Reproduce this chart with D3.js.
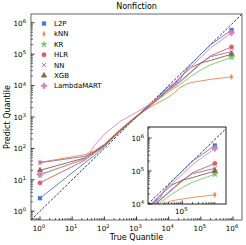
<!DOCTYPE html>
<html><head><meta charset="utf-8">
<script src="https://cdn.jsdelivr.net/npm/d3@7"></script>
<style>body{margin:0;background:#fff}svg{display:block;font-family:"DejaVu Sans",sans-serif}</style>
</head><body><svg id="c" width="246" height="245"></svg>
<script>
// ---- data ----
const seriesNames = ["L2P","kNN","KR","HLR","NN","XGB","LambdaMART"];
const colors = ["#4878d0","#ee854a","#6acc64","#d65f5f","#956cb4","#8c613c","#dc7ec0"];
const markers = ["square","thin_diamond","star","circle","x","triangle","plus"];
const trueQuantile = [1, 25, 50, 100, 300, 1000, 3000, 10000, 15000, 22000, 32000, 50000, 100000, 200000, 900000];
const predL2P  = [2.6, 35, 60, 115, 340, 1050, 2900, 9300, 11200, 14800, 28000, 48000, 100000, 200000, 590000];
const predKNN  = [36, 63, 85, 135, 390, 1100, 2200, 4300, 6000, 8500, 10500, 12600, 14100, 15800, 19000];
const predKR   = [14, 48, 75, 120, 350, 1000, 2500, 6300, 8300, 10500, 14100, 20000, 31600, 45700, 80000];
const predHLR  = [8, 42, 72, 120, 350, 1000, 2500, 7100, 9300, 12600, 17800, 26300, 50000, 89000, 170000];
const predNN   = [35, 56, 80, 128, 355, 1000, 2630, 7600, 10000, 13200, 18600, 28200, 52500, 83000, 120000];
const predXGB  = [20, 50, 76, 128, 370, 1050, 2800, 7900, 11200, 17800, 25100, 38000, 52500, 63000, 100000];
const predLM   = [15, 45, 126, 282, 708, 1410, 2800, 8300, 12600, 17800, 26300, 40000, 79000, 158000, 480000];
const predSeries = [predL2P, predKNN, predKR, predHLR, predNN, predXGB, predLM];
const majorTicks = [1, 10, 100, 1000, 10000, 100000, 1000000];
const tickExp = ["0","1","2","3","4","5","6"];
const insetTicks = [10000, 100000, 1000000];
const insetExp = ["4","5","6"];
const insetXTicks = [100000];
const insetXExp = ["5"];

// ---- layout ----
const svg = d3.select("#c");
const M = {l:31, r:242, t:14, b:220};
const dom = [Math.pow(10,-0.28), Math.pow(10,6.28)];
const x = d3.scaleLog().domain(dom).range([M.l, M.r]);
const y = d3.scaleLog().domain(dom).range([M.b, M.t]);
const I = {l:148, r:226, t:127, b:204};
const idom = [1e4, 1.9e6];
const xi = d3.scaleLog().domain(idom).range([I.l, I.r]);
const yi = d3.scaleLog().domain([1e4, 2.15e6]).range([I.b, I.t]);

const defs = svg.append("defs");
defs.append("clipPath").attr("id","cm").append("rect").attr("x",M.l).attr("y",M.t).attr("width",M.r-M.l).attr("height",M.b-M.t);
defs.append("clipPath").attr("id","ci").append("rect").attr("x",I.l).attr("y",I.t).attr("width",I.r-I.l).attr("height",I.b-I.t);

function markerPath(kind){
  const s = 2.2;
  switch(kind){
    case "square": return d3.symbol(d3.symbolSquare, 15)();
    case "circle": return d3.symbol(d3.symbolCircle, 15)();
    case "star": return d3.symbol(d3.symbolStar, 13)();
    case "triangle": return d3.symbol(d3.symbolTriangle, 14)();
    case "plus": return d3.symbol(d3.symbolCross, 18)();
    case "thin_diamond": return "M0,-2.7L1.4,0L0,2.7L-1.4,0Z";
    case "x": return `M${-s},${-s}L${s},${s}M${-s},${s}L${s},${-s}`;
  }
}
function drawMarker(g, kind, cx, cy, col){
  const p = g.append("path").attr("d", markerPath(kind)).attr("transform",`translate(${cx},${cy})`);
  if(kind==="x") p.attr("fill","none").attr("stroke",col).attr("stroke-width",0.9);
  else p.attr("fill",col).attr("stroke",col).attr("stroke-width",0.4);
}

function drawSeries(g, xs, ys){
  const d0 = xs.domain();
  g.append("line").attr("x1",xs(d0[0])).attr("y1",ys(d0[0])).attr("x2",xs(d0[1]*2)).attr("y2",ys(d0[1]*2))
    .attr("stroke","#000").attr("stroke-width",0.8).attr("stroke-dasharray","2.5,1.5");
  predSeries.forEach((vals,i)=>{
    const pts = trueQuantile.map((t,j)=>[t, vals[j]]);
    const line = d3.line().x(d=>xs(d[0])).y(d=>ys(d[1]));
    g.append("path").attr("d", line(pts)).attr("fill","none").attr("stroke",colors[i]).attr("stroke-width",0.9);
  });
  predSeries.forEach((vals,i)=>{
    [0, vals.length-1].forEach(j=>drawMarker(g, markers[i], xs(trueQuantile[j]), ys(vals[j]), colors[i]));
  });
}

function minorTicks(domain){
  const out=[];
  for(let e=-1;e<=7;e++) for(let m=2;m<=9;m++){const v=m*Math.pow(10,e); if(v>=domain[0]&&v<=domain[1]) out.push(v);}
  return out;
}
function supLabel(g, tx, ty, exp, anchor, fs){
  const t = g.append("text").attr("x",tx).attr("y",ty).attr("text-anchor",anchor).attr("font-size",fs).attr("fill","#000");
  t.append("tspan").text("10");
  t.append("tspan").attr("dy",-fs*0.38).attr("font-size",fs*0.72).text(exp);
}

// main plot
const gm = svg.append("g").attr("clip-path","url(#cm)");
drawSeries(gm, x, y);
svg.append("rect").attr("x",M.l).attr("y",M.t).attr("width",M.r-M.l).attr("height",M.b-M.t)
  .attr("fill","none").attr("stroke","#444").attr("stroke-width",0.8);
const ax = svg.append("g");
majorTicks.forEach((v,k)=>{
  ax.append("line").attr("x1",x(v)).attr("x2",x(v)).attr("y1",M.b).attr("y2",M.b-3.5).attr("stroke","#000").attr("stroke-width",0.8);
  ax.append("line").attr("y1",y(v)).attr("y2",y(v)).attr("x1",M.l).attr("x2",M.l+3.5).attr("stroke","#000").attr("stroke-width",0.8);
  supLabel(ax, x(v)-1, M.b+11, tickExp[k], "middle", 7.2);
  supLabel(ax, M.l-5, y(v)+2.8, tickExp[k], "end", 7.2);
});
minorTicks(dom).forEach(v=>{
  ax.append("line").attr("x1",x(v)).attr("x2",x(v)).attr("y1",M.b).attr("y2",M.b-2).attr("stroke","#000").attr("stroke-width",0.6);
  ax.append("line").attr("y1",y(v)).attr("y2",y(v)).attr("x1",M.l).attr("x2",M.l+2).attr("stroke","#000").attr("stroke-width",0.6);
});

svg.append("text").attr("x",(M.l+M.r)/2).attr("y",9).attr("text-anchor","middle").attr("font-size",8).text("Nonfiction");
svg.append("text").attr("x",(M.l+M.r)/2).attr("y",240).attr("text-anchor","middle").attr("font-size",8).text("True Quantile");
svg.append("text").attr("transform",`translate(10,${(M.t+M.b)/2}) rotate(-90)`).attr("text-anchor","middle").attr("font-size",8).text("Predict Quantile");

const lg = svg.append("g");
seriesNames.forEach((n,i)=>{
  const ly = 23.5 + i*10.4;
  drawMarker(lg, markers[i], 44, ly, colors[i]);
  lg.append("text").attr("x",54).attr("y",ly+2.5).attr("font-size",7).text(n);
});

// inset
svg.append("rect").attr("x",I.l).attr("y",I.t).attr("width",I.r-I.l).attr("height",I.b-I.t).attr("fill","#fff");
const gi = svg.append("g").attr("clip-path","url(#ci)");
drawSeries(gi, xi, yi);
svg.append("rect").attr("x",I.l).attr("y",I.t).attr("width",I.r-I.l).attr("height",I.b-I.t)
  .attr("fill","none").attr("stroke","#222").attr("stroke-width",1);
const ai = svg.append("g");
insetTicks.forEach((v,k)=>{
  ai.append("line").attr("y1",yi(v)).attr("y2",yi(v)).attr("x1",I.l).attr("x2",I.l+3.5).attr("stroke","#000").attr("stroke-width",0.8);
  supLabel(ai, I.l-4, yi(v)+2.8, insetExp[k], "end", 7.2);
});
insetXTicks.forEach((v,k)=>{
  ai.append("line").attr("x1",xi(v)).attr("x2",xi(v)).attr("y1",I.b).attr("y2",I.b-3.5).attr("stroke","#000").attr("stroke-width",0.8);
  supLabel(ai, xi(v)-1, I.b+10, insetXExp[k], "middle", 7.2);
});
minorTicks([1e4,2.15e6]).forEach(v=>{
  ai.append("line").attr("y1",yi(v)).attr("y2",yi(v)).attr("x1",I.l).attr("x2",I.l+2).attr("stroke","#000").attr("stroke-width",0.6);
});
minorTicks(idom).forEach(v=>{
  ai.append("line").attr("x1",xi(v)).attr("x2",xi(v)).attr("y1",I.b).attr("y2",I.b-2).attr("stroke","#000").attr("stroke-width",0.6);
});
</script></body></html>
